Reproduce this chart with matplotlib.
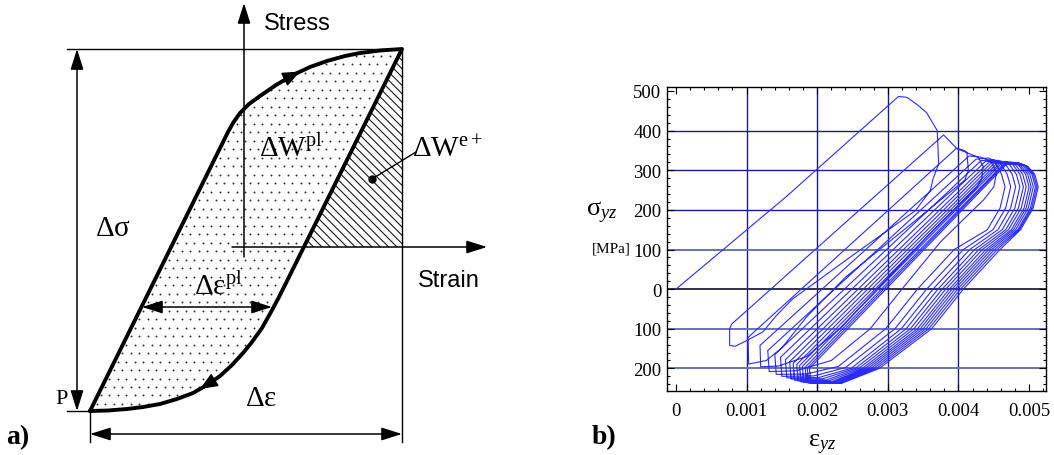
import numpy as np
import matplotlib
matplotlib.use("Agg")
import matplotlib.pyplot as plt
from matplotlib.patches import Polygon
from matplotlib.ticker import MultipleLocator

plt.rcParams['mathtext.fontset'] = 'custom'
plt.rcParams['mathtext.rm'] = 'Liberation Serif'
plt.rcParams['mathtext.it'] = 'Liberation Serif:italic'
plt.rcParams['mathtext.bf'] = 'Liberation Serif:bold'
plt.rcParams['hatch.linewidth'] = 0.8

SERIF = 'Liberation Serif'
SANS = 'Liberation Sans'

# ---------------- panel a: schematic loop (figure pixel coords) ----------------
loop_rise = [(90, 412), (228, 133), (233, 124), (240, 114), (249, 105), (260, 97),
             (276, 86), (293, 76), (310, 68), (327, 62), (345, 57), (360, 54),
             (380, 51.5), (402, 50)]
loop_fall = [(402, 50), (288, 280), (279, 298), (271, 313), (262, 329), (252, 343),
             (243, 354), (232, 366), (220, 377), (207, 386), (193, 394), (177, 400),
             (160, 405), (143, 408), (127, 410), (108, 411.5), (90, 412)]
elastic_part = [(402, 50), (304, 248), (402, 248)]

# ---------------- panel b: shear stress-strain loops ----------------
# strain in 1e-3, stress in MPa
first_load = [(0, 0), (1.56, 233), (3.15, 486), (3.27, 484), (3.42, 465), (3.55, 445),
              (3.70, 400), (3.72, 316), (3.64, 278), (3.60, 248), (3.39, 198), (2.50, 85),
              (1.65, -25), (1.42, -67), (1.23, -108), (1.01, -129), (0.84, -144),
              (0.76, -142), (0.76, -100), (0.79, -88)]
cycle_01 = [(0.79, -88), (3.79, 389), (3.97, 356), (4.08, 350), (4.12, 345), (4.14, 300),
            (4.09, 275), (3.30, 160), (2.40, 30), (1.85, -70), (1.50, -148), (1.28, -180),
            (1.03, -189), (1.02, -122)]
cycle_02 = [(1.02, -122), (3.97, 355), (4.15, 342), (4.28, 333), (4.35, 310), (4.33, 278),
            (4.25, 255), (3.60, 140), (2.85, 0), (2.35, -95), (1.85, -170), (1.45, -194),
            (1.20, -196), (1.19, -142)]
cycle_03 = [(1.19, -142), (4.15, 336), (4.32, 333), (4.46, 322), (4.54, 294), (4.50, 258),
            (4.36, 226), (3.75, 120), (3.20, 0), (2.75, -100), (2.20, -180), (1.70, -206),
            (1.32, -208), (1.30, -155)]
cycle_04 = [(1.30, -155), (4.25, 328), (4.43, 331), (4.51, 323), (4.61, 290), (4.66, 258),
            (4.59, 205), (4.41, 150), (3.94, 100), (3.42, 0), (2.97, -100), (2.30, -195),
            (1.85, -214), (1.42, -215), (1.40, -165)]
cycle_05 = [(1.40, -165), (4.32, 324), (4.50, 327), (4.59, 319), (4.69, 290), (4.74, 258),
            (4.67, 205), (4.49, 150), (4.07, 100), (3.55, 0), (3.10, -100), (2.40, -198),
            (1.95, -219), (1.50, -220), (1.48, -172)]
cycle_06 = [(1.48, -172), (4.38, 322), (4.56, 325), (4.66, 317), (4.76, 290), (4.81, 258),
            (4.74, 205), (4.56, 150), (4.16, 100), (3.64, 0), (3.19, -100), (2.48, -200),
            (2.02, -223), (1.57, -224), (1.55, -178)]
cycle_07 = [(1.55, -178), (4.43, 320), (4.61, 323), (4.72, 315), (4.82, 290), (4.87, 258),
            (4.80, 205), (4.62, 150), (4.23, 100), (3.71, 0), (3.26, -100), (2.54, -200),
            (2.08, -226), (1.63, -227), (1.61, -183)]
cycle_08 = [(1.61, -183), (4.47, 319), (4.65, 322), (4.77, 314), (4.87, 290), (4.92, 258),
            (4.85, 205), (4.67, 150), (4.29, 100), (3.77, 0), (3.32, -100), (2.59, -200),
            (2.13, -229), (1.68, -230), (1.66, -187)]
cycle_09 = [(1.66, -187), (4.51, 318), (4.69, 321), (4.81, 313), (4.91, 290), (4.96, 258),
            (4.89, 205), (4.71, 150), (4.34, 100), (3.82, 0), (3.37, -100), (2.64, -200),
            (2.17, -231), (1.73, -232), (1.71, -190)]
cycle_10 = [(1.71, -190), (4.55, 318), (4.73, 321), (4.85, 313), (4.95, 290), (5.00, 258),
            (4.93, 205), (4.75, 150), (4.39, 100), (3.87, 0), (3.42, -100), (2.68, -200),
            (2.21, -233), (1.77, -234), (1.75, -193)]
cycle_11 = [(1.75, -193), (4.58, 317), (4.76, 320), (4.88, 312), (4.98, 290), (5.03, 258),
            (4.96, 205), (4.78, 150), (4.43, 100), (3.91, 0), (3.46, -100), (2.72, -200),
            (2.24, -234), (1.81, -235), (1.79, -195)]
cycle_12 = [(1.79, -195), (4.61, 317), (4.79, 320), (4.91, 312), (5.01, 290), (5.06, 258),
            (4.99, 205), (4.81, 150), (4.47, 100), (3.95, 0), (3.50, -100), (2.76, -200),
            (2.27, -235), (1.85, -236), (1.83, -197)]
cycle_13 = [(1.83, -197), (4.64, 316), (4.82, 319), (4.94, 311), (5.04, 290), (5.09, 258),
            (5.02, 205), (4.84, 150), (4.51, 100), (3.99, 0), (3.54, -100), (2.80, -200),
            (2.30, -236), (1.88, -237), (1.86, -199)]
cycle_14 = [(1.86, -199), (4.66, 316), (4.84, 319), (4.96, 311), (5.06, 290), (5.11, 258),
            (5.04, 205), (4.86, 150), (4.55, 100), (4.03, 0), (3.58, -100), (2.84, -200),
            (2.32, -237), (1.91, -238), (1.89, -200)]
cycle_15 = [(1.89, -200), (4.68, 315), (4.86, 318), (4.98, 310), (5.08, 290), (5.13, 258),
            (5.06, 205), (4.88, 150), (4.59, 100), (4.07, 0), (3.62, -100), (2.88, -200),
            (2.34, -238), (1.94, -238)]

x_ticks = [0, 0.001, 0.002, 0.003, 0.004, 0.005]
x_tick_labels = ['0', '0.001', '0.002', '0.003', '0.004', '0.005']
y_ticks = [-200, -100, 0, 100, 200, 300, 400, 500]
y_tick_labels = ['200', '100', '0', '100', '200', '300', '400', '500']

W, H = 1054, 456
fig = plt.figure(figsize=(W / 100, H / 100), dpi=100)

# ---- panel a ----
ax0 = fig.add_axes([0, 0, 1, 1])
ax0.set_xlim(0, W)
ax0.set_ylim(H, 0)
ax0.axis('off')

loop_pts = loop_rise + loop_fall[1:]
clip = Polygon(loop_pts, closed=True, facecolor='none', edgecolor='none')
ax0.add_patch(clip)

# stipple inside the loop
gx, gy = np.meshgrid(np.arange(88, 405, 8.5), np.arange(48, 415, 8.5))
gx = gx + (np.arange(gx.shape[0])[:, None] % 2) * 4.2
dots = ax0.scatter(gx.ravel(), gy.ravel(), s=2.0, color='#333333', lw=0)
dots.set_clip_path(clip)

# hatched elastic energy triangle
ax0.add_patch(Polygon(elastic_part, closed=True, facecolor='none',
                      edgecolor='#1a1a1a', hatch='\\\\\\\\', lw=0))

lx, ly = zip(*loop_pts)
ax0.plot(lx, ly, color='k', lw=2.8, solid_joinstyle='round', solid_capstyle='round')

# thin frame lines
ax0.plot([67, 402], [50, 50], color='k', lw=1.0)
ax0.plot([402, 402], [50, 443], color='k', lw=1.0)
ax0.plot([67, 96], [412, 412], color='k', lw=1.0)
ax0.plot([90, 90], [412, 443], color='k', lw=1.0)

head = dict(color='k', lw=1.1, shrinkA=0, shrinkB=0, mutation_scale=18)
ax0.annotate('', xy=(244, 4), xytext=(244, 258),
             arrowprops=dict(arrowstyle='-|>,head_length=0.7,head_width=0.22', **head))
ax0.annotate('', xy=(487, 248), xytext=(232, 248),
             arrowprops=dict(arrowstyle='-|>,head_length=0.7,head_width=0.22', **head))
ax0.annotate('', xy=(77, 50), xytext=(77, 412),
             arrowprops=dict(arrowstyle='<|-|>,head_length=0.7,head_width=0.22', **head))
ax0.annotate('', xy=(90, 435), xytext=(402, 435),
             arrowprops=dict(arrowstyle='<|-|>,head_length=0.7,head_width=0.22', **head))
ax0.annotate('', xy=(142, 308), xytext=(272, 308),
             arrowprops=dict(arrowstyle='<|-|>,head_length=0.7,head_width=0.22', **head))

# direction arrows on the loop
ax0.annotate('', xy=(300, 72.5), xytext=(288, 78.5),
             arrowprops=dict(arrowstyle='-|>,head_length=0.6,head_width=0.25', **head))
ax0.annotate('', xy=(200, 390), xytext=(213, 382),
             arrowprops=dict(arrowstyle='-|>,head_length=0.6,head_width=0.25', **head))

# leader for elastic energy
ax0.plot([416, 372], [153, 180], color='k', lw=1.0)
ax0.plot([372], [180], 'o', color='k', ms=5)

ax0.text(297, 24, 'Stress', fontsize=17, family=SANS, ha='center', va='center')
ax0.text(449, 281, 'Strain', fontsize=17, family=SANS, ha='center', va='center')
ax0.text(113, 228, r'$\mathrm{Δσ}$', fontsize=21, ha='center', va='center')
ax0.text(291, 149, r'$\mathrm{ΔW}^{\mathrm{pl}}$', fontsize=21, ha='center', va='center')
ax0.text(447, 149, r'$\mathrm{ΔW}^{\mathrm{e+}}$', fontsize=21, ha='center', va='center')
ax0.text(218, 287, r'$\mathrm{Δε}^{\mathrm{pl}}$', fontsize=21, ha='center', va='center')
ax0.text(261, 398, r'$\mathrm{Δε}$', fontsize=21, ha='center', va='center')
ax0.text(62, 400, 'P', fontsize=16, family=SERIF, ha='center', va='center')
ax0.text(18, 438, 'a)', fontsize=20, family=SERIF, weight='bold', ha='center', va='center')
ax0.text(604, 438, 'b)', fontsize=20, family=SERIF, weight='bold', ha='center', va='center')

# ---- panel b ----
left, right, top, bottom = 667, 1046, 88, 392
ax1 = fig.add_axes([left / W, 1 - bottom / H, (right - left) / W, (bottom - top) / H])
ax1.patch.set_alpha(0)

path = list(first_load)
for cyc in [cycle_01, cycle_02, cycle_03, cycle_04, cycle_05, cycle_06, cycle_07,
            cycle_08, cycle_09, cycle_10, cycle_11, cycle_12, cycle_13, cycle_14,
            cycle_15]:
    path += cyc[1:]
strain = np.array([p[0] for p in path]) * 1e-3
stress = np.array([p[1] for p in path])

for xv in [0.001, 0.002, 0.003, 0.004]:
    ax1.axvline(xv, color='#1c1c86', lw=1.0, zorder=1)
for yv in [200, 300, 400]:
    ax1.axhline(yv, color='#1c1c86', lw=1.0, zorder=1)
for yv in [-200, -100, 100]:
    ax1.axhline(yv, color='#6a72ac', lw=1.4, zorder=1)
ax1.axhline(0, color='#30304a', lw=1.4, zorder=1)

ax1.plot(strain, stress, color='#2b2bff', lw=0.8, zorder=2)

ax1.set_xlim(-0.000127, 0.00524)
ax1.set_ylim(-257, 510)
ax1.set_xticks(x_ticks)
ax1.set_xticklabels(x_tick_labels)
ax1.set_yticks(y_ticks)
ax1.set_yticklabels(y_tick_labels)
ax1.xaxis.set_minor_locator(MultipleLocator(0.0002))
ax1.yaxis.set_minor_locator(MultipleLocator(20))
ax1.tick_params(which='both', direction='in', top=True, right=True, width=0.8)
ax1.tick_params(which='major', length=5, labelsize=13.5)
ax1.tick_params(which='minor', length=2.5)
ax1.tick_params(axis='x', pad=8)
ax1.tick_params(axis='y', pad=4)
for lab in ax1.get_xticklabels() + ax1.get_yticklabels():
    lab.set_family(SERIF)
for sp in ax1.spines.values():
    sp.set_linewidth(1.0)

ax0.text(602, 213, r'$\mathrm{σ}_{yz}$', fontsize=19, ha='center', va='center')
ax0.text(611, 249, '[MPa]', fontsize=11, family=SERIF, ha='center', va='center')
ax0.text(822, 444, r'$\mathrm{ε}_{yz}$', fontsize=19, ha='center', va='center')

fig.savefig('out.png', dpi=100)
